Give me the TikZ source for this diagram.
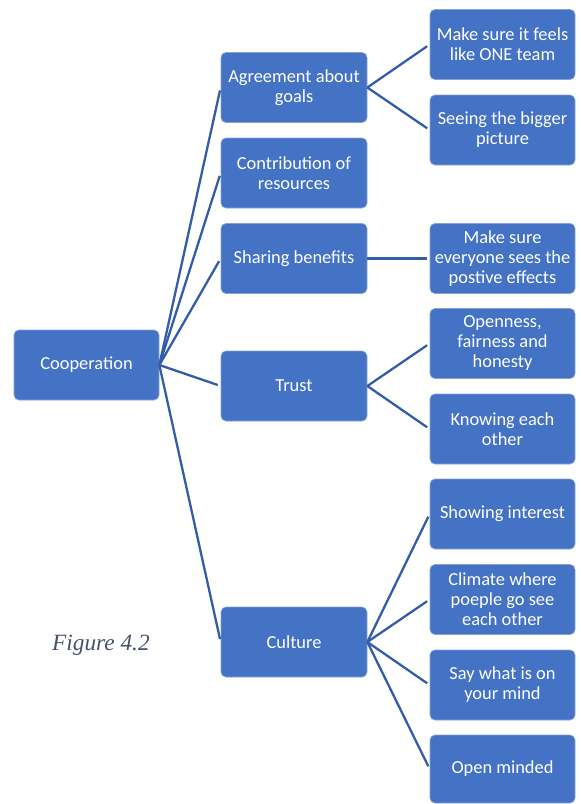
\documentclass[tikz,border=0pt]{standalone}
\usepackage{fontspec}
\setmainfont{Carlito}
\newfontfamily\captionserif{Liberation Serif}
\definecolor{boxblue}{HTML}{4472C4}
\definecolor{linkblue}{HTML}{345DA8}
\definecolor{captiongray}{HTML}{44546A}
\begin{document}
\begin{tikzpicture}[x=1pt,y=-1pt,
  topic/.style={rectangle, rounded corners=5pt, fill=boxblue,
    draw=boxblue!65!white, line width=0.7pt, text=white, align=center,
    inner sep=0pt, minimum height=70pt,
    font=\fontsize{18.4}{20}\selectfont},
  rootbox/.style={topic, minimum width=145pt},
  midbox/.style={topic, minimum width=146pt},
  leafbox/.style={topic, minimum width=145pt},
  link/.style={draw=linkblue, line width=2.3pt, shorten >=3pt}]
\useasboundingbox (0,0) rectangle (581,804);

% root
\node[rootbox] (coop) at (86.5,365) {Cooperation};

% first level
\node[midbox] (goals)   at (294,87.5)  {Agreement about\\goals};
\node[midbox] (res)     at (294,173)   {Contribution of\\resources};
\node[midbox] (benef)   at (294,258.5) {Sharing benefits};
\node[midbox] (trust)   at (294,386)   {Trust};
\node[midbox] (culture) at (294,642)   {Culture};

% second level
\node[leafbox] (oneteam) at (502.5,44.5)  {Make sure it feels\\like ONE team};
\node[leafbox] (bigpic)  at (502.5,130)   {Seeing the bigger\\picture};
\node[leafbox] (effects) at (502.5,258.5) {Make sure\\everyone sees the\\postive effects};
\node[leafbox] (open)    at (502.5,343.5) {Openness,\\fairness and\\honesty};
\node[leafbox] (know)    at (502.5,429)   {Knowing each\\other};
\node[leafbox] (interest) at (502.5,514)  {Showing interest};
\node[leafbox] (climate) at (502.5,599.5) {Climate where\\poeple go see\\each other};
\node[leafbox] (say)     at (502.5,685)   {Say what is on\\your mind};
\node[leafbox, minimum height=68pt] (minded) at (502.5,769) {Open minded};

% connectors
\foreach \c in {goals,res,benef,trust,culture}
  \draw[link] (coop.east) -- (\c.west);
\foreach \c in {oneteam,bigpic}
  \draw[link] (goals.east) -- (\c.west);
\draw[link] (benef.east) -- (effects.west);
\foreach \c in {open,know}
  \draw[link] (trust.east) -- (\c.west);
\foreach \c in {interest,climate,say,minded}
  \draw[link] (culture.east) -- (\c.west);

% caption
\node[anchor=base west, inner sep=0pt, text=captiongray,
  font=\captionserif\itshape\fontsize{23.3}{26}\selectfont] (cap) at (52,650) {Figure 4.2};
\end{tikzpicture}
\end{document}
